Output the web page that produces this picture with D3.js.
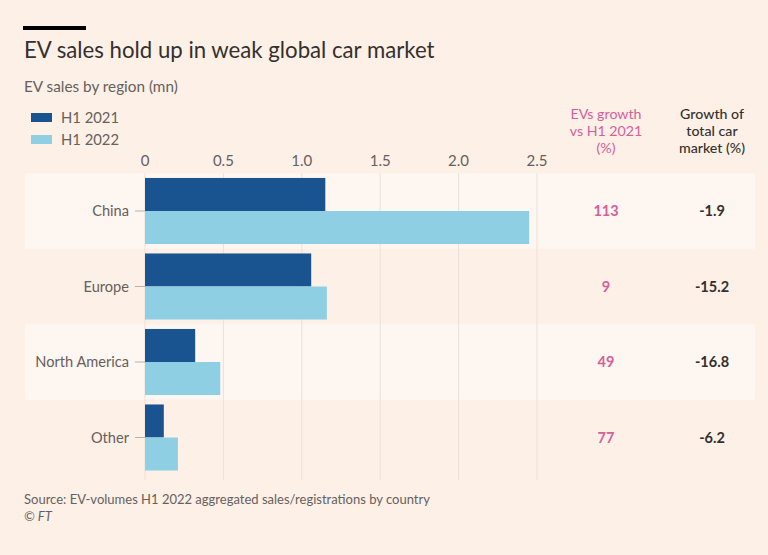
<!DOCTYPE html>
<html><head><meta charset="utf-8">
<script src="https://cdn.jsdelivr.net/npm/d3@7"></script>
<style>
body{margin:0;background:#fdf0e7;}
svg{display:block;font-family:"Lato","Open Sans",sans-serif;}
</style></head>
<body><svg id="c" width="768" height="555"></svg>
<script>
const regions = ["China","Europe","North America","Other"];
const seriesNames = ["H1 2021","H1 2022"];
const sales2021 = [1.15, 1.06, 0.32, 0.12];
const sales2022 = [2.45, 1.16, 0.48, 0.21];
const evGrowth = ["113","9","49","77"];
const marketGrowth = ["-1.9","-15.2","-16.8","-6.2"];
const xTicks = [0, 0.5, 1.0, 1.5, 2.0, 2.5];
const xTickLabels = ["0","0.5","1.0","1.5","2.0","2.5"];

const colors = {"H1 2021":"#1a5490","H1 2022":"#8fcfe4"};
const svg = d3.select("#c");
svg.append("rect").attr("width",768).attr("height",555).attr("fill","#fdf0e7");

const x = d3.scaleLinear().domain([0,2.5]).range([145,537]);
const y = d3.scaleBand().domain(regions).range([173.25,475.25]).paddingInner(0.125).paddingOuter(0.0625);
const ys = d3.scaleBand().domain(seriesNames).range([0,y.bandwidth()]);
const half = y.step()*0.125/2;

// alternating light bands
svg.selectAll("rect.band").data(regions.filter((d,i)=>i%2===0)).join("rect")
  .attr("x",25).attr("width",730)
  .attr("y",d=>y(d)-half).attr("height",y.bandwidth()+2*half)
  .attr("fill","#fef6f0");

// gridlines
svg.selectAll("line.grid").data(xTicks).join("line")
  .attr("x1",d=>x(d)).attr("x2",d=>x(d)).attr("y1",173).attr("y2",480)
  .attr("stroke","#ece1d8").attr("stroke-width",1);

// x tick labels
svg.selectAll("text.xt").data(xTicks).join("text")
  .attr("x",d=>x(d)).attr("y",166).attr("text-anchor","middle")
  .attr("font-size",15).attr("fill","#66605c")
  .text((d,i)=>xTickLabels[i]);

// y axis ticks + labels
const cats = svg.selectAll("g.cat").data(regions).join("g")
  .attr("transform",d=>`translate(0,${y(d)+y.bandwidth()/2})`);
cats.append("line").attr("x1",135).attr("x2",145).attr("stroke","#b9afa8").attr("stroke-width",1);
cats.append("text").attr("x",129).attr("y",5).attr("text-anchor","end")
  .attr("font-size",14.6).attr("fill","#66605c").text(d=>d);

// bars
const rows = regions.map((r,i)=>({region:r, vals:[{s:"H1 2021",v:sales2021[i]},{s:"H1 2022",v:sales2022[i]}]}));
const g = svg.selectAll("g.bars").data(rows).join("g").attr("transform",d=>`translate(0,${y(d.region)})`);
g.selectAll("rect").data(d=>d.vals).join("rect")
  .attr("x",x(0)).attr("y",d=>ys(d.s)).attr("height",ys.bandwidth())
  .attr("width",d=>x(d.v)-x(0)).attr("fill",d=>colors[d.s]);

// right columns
const col1 = 606, col2 = 712;
svg.selectAll("text.g1").data(regions).join("text")
  .attr("x",col1).attr("y",d=>y(d)+y.bandwidth()/2+5).attr("text-anchor","middle")
  .attr("font-size",14.5).attr("font-weight",700).attr("fill","#d4609a")
  .text((d,i)=>evGrowth[i]);
svg.selectAll("text.g2").data(regions).join("text")
  .attr("x",col2).attr("y",d=>y(d)+y.bandwidth()/2+5).attr("text-anchor","middle")
  .attr("font-size",14.5).attr("font-weight",700).attr("fill","#33302e")
  .text((d,i)=>marketGrowth[i]);

const h1 = ["EVs growth","vs H1 2021","(%)"];
const h2 = ["Growth of","total car","market (%)"];
svg.selectAll("text.h1").data(h1).join("text")
  .attr("x",col1).attr("y",(d,i)=>118.5+i*17.2).attr("text-anchor","middle")
  .attr("font-size",14.2).attr("fill","#d4609a").text(d=>d);
svg.selectAll("text.h2").data(h2).join("text")
  .attr("x",col2).attr("y",(d,i)=>118.5+i*17.2).attr("text-anchor","middle")
  .attr("font-size",14.2).attr("font-weight",500).attr("fill","#33302e").text(d=>d);

// header
svg.append("rect").attr("x",23).attr("y",26).attr("width",63).attr("height",4).attr("fill","#000");
svg.append("text").attr("x",24).attr("y",58).attr("font-size",22.2).attr("fill","#33302e")
  .text("EV sales hold up in weak global car market");
svg.append("text").attr("x",24).attr("y",92).attr("font-size",15.3).attr("fill","#66605c")
  .text("EV sales by region (mn)");

// legend
const lg = svg.selectAll("g.lg").data(seriesNames).join("g")
  .attr("transform",(d,i)=>`translate(31,${113+i*22})`);
lg.append("rect").attr("width",21).attr("height",9).attr("fill",d=>colors[d]);
lg.append("text").attr("x",30).attr("y",10).attr("font-size",14.8).attr("fill","#66605c").text(d=>d);

// footer
svg.append("text").attr("x",24).attr("y",504).attr("font-size",13).attr("fill","#66605c")
  .text("Source: EV-volumes H1 2022 aggregated sales/registrations by country");
svg.append("text").attr("x",24).attr("y",521).attr("font-size",13).attr("fill","#66605c")
  .attr("font-style","italic").text("© FT");
</script></body></html>
